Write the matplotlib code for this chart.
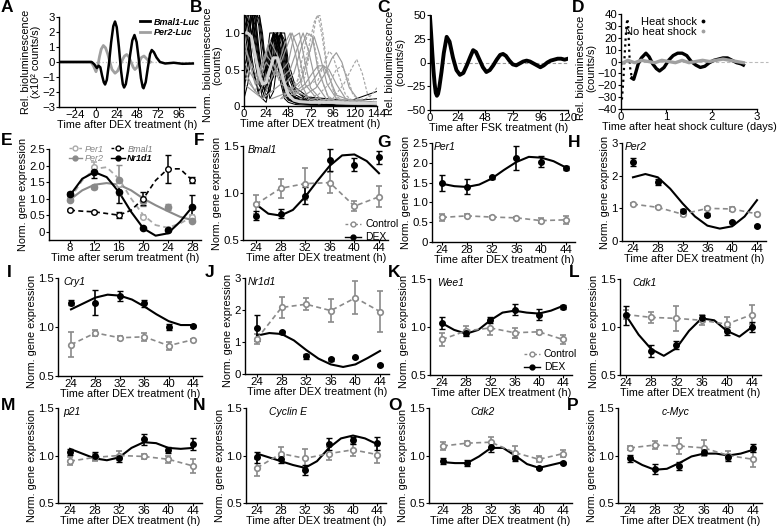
import matplotlib
matplotlib.use('Agg')
import matplotlib.pyplot as plt
from matplotlib.lines import Line2D

plt.rcParams['font.family'] = ['Liberation Sans', 'DejaVu Sans']
plt.rcParams['font.size'] = 8
plt.rcParams['axes.linewidth'] = 1.0
plt.rcParams['xtick.major.size'] = 2.0
plt.rcParams['ytick.major.size'] = 2.0
plt.rcParams['xtick.major.pad'] = 0.0
plt.rcParams['ytick.major.pad'] = 0.8
plt.rcParams['xtick.labelsize'] = 8.2
plt.rcParams['ytick.labelsize'] = 8.2
plt.rcParams['axes.labelsize'] = 7.8
plt.rcParams['axes.labelpad'] = 1

# ---------------- Panel A ----------------
a_bmal_t = [-43, -10, -5, -2, 1, 3, 5, 7, 9, 10.5, 12.5, 15, 17.5, 20, 22, 24, 26.5, 29, 31, 32.5, 34.5, 37, 39.5, 42, 44.5, 47, 49.5, 52, 54, 55, 57.5, 60, 62.5, 64.5, 67, 70, 74, 80, 90, 100, 112]
a_bmal_v = [0, 0, 0, -0.15, -0.4, -0.25, -0.35, -0.9, -1.35, -1.5, -1.19, -0.11, 1.31, 2.39, 2.7, 2.32, 0.99, -0.6, -1.48, -1.7, -1.47, -0.62, 0.5, 1.44, 1.8, 1.33, 0.16, -1.08, -1.67, -1.75, -1.34, -0.37, 0.53, 0.8, 0.65, 0.3, 0.0, -0.1, -0.05, -0.12, -0.1]
a_per2_t = [-43, -6, -3, 0, 2, 4, 6, 8.5, 11, 13.5, 16, 18.5, 22, 25, 28, 31, 33, 35.5, 38, 40.5, 43, 45, 47.5, 50, 52.5, 55.5, 58, 60.5, 63]
a_per2_v = [0, 0, -0.25, -0.65, -0.3, 0.35, 0.85, 1.1, 0.95, 0.55, 0.0, -0.5, -0.75, -0.6, -0.2, 0.2, 0.4, 0.5, 0.35, 0.0, -0.35, -0.5, -0.35, 0.0, 0.3, 0.4, 0.25, 0.1, 0.0]
a_xticks = [-24, 0, 24, 48, 72, 96]
a_yticks = [-3, -2, -1, 0, 1, 2, 3]

# ---------------- Panel B ----------------
b_black_t = [0, 4, 8, 12, 16, 20, 24, 28, 32, 36, 40, 44, 48, 56, 72, 108, 144]
b_black_traces = [
    [1.3, 1.3, 1.0, 0.6, 0.3, 0.2, 0.4, 0.8, 1.0, 0.9, 0.5, 0.2, 0.1, 0.05, 0.03, 0.02, 0.02],
    [0.2, 0.6, 1.3, 1.3, 0.8, 0.4, 0.3, 0.6, 0.9, 1.0, 0.7, 0.3, 0.1, 0.05, 0.02, 0.01, 0.03],
    [1.0, 1.3, 1.3, 0.9, 0.5, 0.2, 0.1, 0.3, 0.7, 1.0, 1.0, 0.6, 0.2, 0.08, 0.04, 0.02, 0.01],
    [0.6, 1.0, 1.3, 1.2, 0.7, 0.3, 0.2, 0.5, 1.0, 0.8, 0.4, 0.15, 0.08, 0.04, 0.02, 0.0, 0.0],
    [1.3, 1.1, 0.7, 0.4, 0.2, 0.3, 0.6, 1.0, 1.0, 0.6, 0.3, 0.1, 0.05, 0.02, 0.01, 0.01, 0.02],
    [0.4, 0.8, 1.2, 1.3, 1.1, 0.6, 0.3, 0.2, 0.5, 0.9, 1.0, 0.8, 0.4, 0.15, 0.05, 0.03, 0.02],
    [0.1, 0.3, 0.7, 1.1, 1.3, 1.0, 0.5, 0.3, 0.4, 0.8, 1.0, 0.9, 0.5, 0.2, 0.05, 0.03, 0.05],
    [1.2, 1.3, 1.3, 1.0, 0.6, 0.3, 0.15, 0.2, 0.5, 0.9, 1.0, 0.7, 0.3, 0.1, 0.05, 0.03, 0.02],
    [0.9, 1.2, 1.0, 0.7, 0.4, 0.25, 0.35, 0.7, 1.0, 0.95, 0.6, 0.3, 0.15, 0.08, 0.06, 0.05, 0.04],
    [0.3, 0.5, 0.9, 1.3, 1.3, 0.9, 0.4, 0.1, 0.2, 0.6, 1.0, 1.0, 0.6, 0.25, 0.1, 0.05, 0.02],
    [1.3, 1.3, 1.2, 0.8, 0.4, 0.1, 0.05, 0.3, 0.8, 1.0, 0.7, 0.3, 0.1, 0.04, 0.02, 0.02, 0.01],
    [0.5, 0.7, 1.0, 1.3, 1.2, 0.8, 0.5, 0.4, 0.6, 0.9, 1.0, 0.8, 0.45, 0.2, 0.08, 0.06, 0.1],
    [1.1, 0.9, 0.6, 0.35, 0.15, 0.1, 0.3, 0.65, 0.95, 1.0, 0.75, 0.4, 0.2, 0.1, 0.12, 0.08, 0.05],
    [0.8, 1.3, 1.3, 1.1, 0.7, 0.45, 0.5, 0.85, 1.0, 1.0, 0.85, 0.5, 0.25, 0.12, 0.06, 0.04, 0.2],
]
b_gray_solid = [
    ([0, 12, 24, 36, 44, 50, 56, 62, 70, 84, 100, 144], [0.9, 0.3, 0.7, 0.5, 0.85, 1.0, 0.7, 0.3, 0.1, 0.05, 0.03, 0.02]),
    ([0, 12, 24, 36, 48, 54, 60, 66, 72, 84, 100, 144], [0.5, 0.2, 0.6, 0.4, 0.6, 0.95, 1.0, 0.6, 0.25, 0.08, 0.04, 0.02]),
    ([0, 14, 26, 38, 50, 58, 64, 70, 78, 90, 110, 144], [0.6, 0.3, 0.8, 0.35, 0.5, 0.8, 1.0, 0.75, 0.3, 0.08, 0.03, 0.02]),
    ([0, 16, 30, 44, 54, 62, 68, 74, 80, 92, 110, 144], [0.4, 0.15, 0.6, 0.3, 0.45, 0.8, 1.0, 0.95, 0.5, 0.1, 0.04, 0.02]),
    ([0, 20, 34, 50, 62, 70, 76, 82, 90, 100, 120, 144], [0.3, 0.1, 0.5, 0.2, 0.35, 0.7, 0.95, 0.7, 0.3, 0.1, 0.04, 0.03]),
    ([20, 40, 56, 66, 74, 80, 86, 92, 100, 120, 144], [0.1, 0.3, 0.2, 0.3, 0.45, 0.55, 0.55, 0.4, 0.15, 0.05, 0.03]),
    ([30, 50, 66, 78, 88, 95, 100, 106, 114, 124, 144], [0.1, 0.2, 0.15, 0.25, 0.45, 0.65, 0.73, 0.6, 0.25, 0.08, 0.03]),
    ([0, 14, 28, 40, 46, 52, 58, 66, 80, 100, 144], [0.8, 0.4, 0.9, 0.6, 0.8, 1.0, 0.8, 0.3, 0.08, 0.03, 0.02]),
    ([40, 60, 72, 80, 86, 92, 100, 110, 144], [0.1, 0.2, 0.3, 0.45, 0.55, 0.5, 0.3, 0.1, 0.03]),
]
b_gray_dashed = [
    ([40, 56, 64, 70, 76, 80, 84, 90, 98, 110, 144], [0.1, 0.3, 0.5, 0.8, 1.15, 1.25, 1.0, 0.5, 0.15, 0.05, 0.03]),
    ([40, 58, 64, 68, 72, 76, 82, 90, 100, 144], [0.1, 0.35, 0.7, 0.95, 1.0, 0.85, 0.45, 0.15, 0.05, 0.03]),
    ([50, 70, 80, 86, 92, 96, 102, 110, 120, 144], [0.1, 0.3, 0.35, 0.55, 0.75, 0.7, 0.45, 0.15, 0.05, 0.03]),
    ([60, 80, 92, 100, 106, 112, 118, 130, 144], [0.1, 0.15, 0.3, 0.5, 0.55, 0.4, 0.15, 0.05, 0.03]),
    ([70, 96, 108, 116, 122, 128, 134, 144], [0.05, 0.1, 0.3, 0.5, 0.64, 0.45, 0.15, 0.05]),
    ([50, 66, 74, 78, 82, 86, 90, 100, 144], [0.1, 0.4, 0.9, 1.2, 1.25, 0.95, 0.5, 0.1, 0.03]),
    ([80, 100, 120, 132, 138, 144], [0.03, 0.05, 0.08, 0.1, 0.15, 0.25]),
]
b_mean_t = [0, 4, 8, 12, 16, 20, 24, 28, 32, 36, 40, 44, 48, 54, 60, 72, 96, 120, 144]
b_mean_v = [1.0, 1.0, 0.95, 0.7, 0.45, 0.3, 0.32, 0.5, 0.66, 0.66, 0.5, 0.3, 0.15, 0.08, 0.06, 0.05, 0.05, 0.04, 0.04]
b_xticks = [0, 24, 48, 72, 96, 120, 144]
b_yticks = [0, 0.5, 1.0]
b_ytick_labels = ['0', '0.5', '1.0']

# ---------------- Panel C ----------------
c_t = [0, 1, 2, 3, 4, 5, 6, 7, 8, 10, 12, 14.5, 17, 20, 23, 26, 29, 32, 35, 37.5, 40, 43, 46, 49, 52, 55, 58, 61, 63.5, 66, 69, 72, 75, 78, 81, 84, 87, 90, 93, 96, 99, 102, 105, 108, 111, 114, 117, 120]
c_v = [48, 30, 10, -8, -22, -32, -35, -33, -27, -10, 10, 27, 22, 5, -8, -13, -11, -3, 6, 13, 11, 3, -5, -10, -8, -3, 3, 8, 9, 7, 2, -2, -3, -1, 1, 2, 1, -1, -3, -5, -3, 0, 2, 3, 4, 4, 3, 4]
c_xticks = [0, 24, 48, 72, 96, 120]
c_yticks = [-50, -25, 0, 25, 50]

# ---------------- Panel D ----------------
d_hs_t = [0.02, 0.04, 0.06, 0.08, 0.1, 0.12, 0.14, 0.16, 0.18, 0.2, 0.24, 0.28, 0.32, 0.38, 0.45, 0.55, 0.62, 0.7, 0.78, 0.85, 0.95, 1.05, 1.15, 1.25, 1.35, 1.45, 1.55, 1.65, 1.75, 1.85, 1.95, 2.05, 2.15, 2.25, 2.35, 2.45, 2.55, 2.65, 2.7]
d_hs_v = [-32, -22, -10, 5, 18, 30, 36, 30, 10, -5, -14, -15, -10, -2, 3, 7, 4, -2, -6, -8, -5, 1, 5, 7, 7, 5, 0, -3, -5, -4, -1, 1, 2, 3, 3, 1, -1, -2, -3]
d_nohs_t = [0.0, 0.15, 0.3, 0.45, 0.6, 0.75, 0.9, 1.05, 1.2, 1.35, 1.5, 1.65, 1.8, 1.95, 2.1, 2.25, 2.4, 2.55, 2.7]
d_nohs_v = [-2, 1, -1, 1, 0, -1, 1, 0, -1, 1, -1, 0, 1, 0, 1, 2, 1, 0, -1]
d_xticks = [0, 1, 2, 3]
d_yticks = [-40, -30, -20, -10, 0, 10, 20, 30, 40]

# ---------------- Panel E ----------------
e_t = [8, 12, 16, 20, 24, 28]
e_per1 = [1.03, 1.95, 1.45, 0.45, 0.07, 0.45]
e_per1_err = [0.05, 0.15, 0.1, 0.05, 0.03, 0.05]
e_per2 = [0.96, 1.35, 1.56, 0.94, 0.75, 0.33]
e_per2_err = [0.04, 0.05, 0.45, 0.15, 0.1, 0.05]
e_bmal1 = [0.65, 0.6, 0.5, 1.0, 1.9, 1.56]
e_bmal1_err = [0.03, 0.03, 0.1, 0.2, 0.42, 0.08]
e_nr1d1 = [1.14, 1.79, 1.21, 0.1, 0.05, 0.75]
e_nr1d1_err = [0.05, 0.17, 0.35, 0.03, 0.03, 0.35]
e_fit_t = [8, 10, 12, 14, 16, 18, 20, 22, 24, 26, 28]
e_per1_fit = [1.0, 1.55, 1.9, 1.95, 1.6, 1.0, 0.5, 0.2, 0.12, 0.25, 0.45]
e_per2_fit = [0.97, 1.25, 1.42, 1.47, 1.42, 1.25, 1.0, 0.8, 0.62, 0.45, 0.35]
e_bmal1_fit = [0.65, 0.62, 0.6, 0.55, 0.5, 0.65, 1.0, 1.55, 1.9, 1.9, 1.55]
e_nr1d1_fit = [1.1, 1.6, 1.8, 1.65, 1.2, 0.6, 0.1, -0.12, -0.05, 0.3, 0.75]
e_xticks = [8, 12, 16, 20, 24, 28]
e_yticks = [0, 0.5, 1.0, 1.5, 2.0, 2.5]
e_ytick_labels = ['0', '0.5', '1.0', '1.5', '2.0', '2.5']

# ---------------- Panels F-P (DEX vs Control) ----------------
times = [24, 28, 32, 36, 40, 44]
fit_t = [24, 26, 28, 30, 32, 34, 36, 38, 40, 42, 44]
gene_xticks = [24, 28, 32, 36, 40, 44]

bmal1_dex = [0.76, 0.78, 0.97, 1.35, 1.30, 1.38]
bmal1_dex_err = [0.05, 0.05, 0.09, 0.12, 0.07, 0.07]
bmal1_ctrl = [0.88, 1.05, 1.10, 1.11, 0.86, 0.96]
bmal1_ctrl_err = [0.10, 0.10, 0.17, 0.11, 0.05, 0.11]
bmal1_fit = [0.88, 0.78, 0.76, 0.82, 0.96, 1.13, 1.29, 1.40, 1.41, 1.34, 1.21]

per1_dex = [1.48, 1.40, 1.63, 2.12, 2.03, 1.88]
per1_dex_err = [0.2, 0.18, 0.03, 0.3, 0.13, 0.05]
per1_ctrl = [0.62, 0.66, 0.63, 0.61, 0.54, 0.56]
per1_ctrl_err = [0.08, 0.04, 0.02, 0.03, 0.06, 0.1]
per1_fit = [1.47, 1.41, 1.39, 1.45, 1.6, 1.82, 2.02, 2.15, 2.13, 2.04, 1.88]

per2_dex = [2.42, 1.81, 0.92, 0.81, 0.59, 0.47]
per2_dex_err = [0.12, 0.1, 0.06, 0.04, 0.03, 0.03]
per2_ctrl = [1.13, 1.03, 0.82, 1.0, 0.98, 0.83]
per2_ctrl_err = [0.04, 0.03, 0.05, 0.04, 0.06, 0.03]
per2_fit = [1.95, 2.05, 1.95, 1.6, 1.15, 0.75, 0.47, 0.38, 0.45, 0.75, 1.25]

cry1_dex = [1.25, 1.25, 1.32, 1.24, 1.0, 1.01]
cry1_dex_err = [0.03, 0.13, 0.05, 0.04, 0.03, 0.01]
cry1_ctrl = [0.82, 0.94, 0.89, 0.9, 0.81, 0.87]
cry1_ctrl_err = [0.13, 0.03, 0.02, 0.04, 0.04, 0.01]
cry1_fit = [1.18, 1.24, 1.3, 1.33, 1.32, 1.28, 1.21, 1.13, 1.06, 1.02, 1.02]

nr1d1_dex = [1.44, 1.3, 0.55, 0.46, 0.52, 0.28]
nr1d1_dex_err = [0.4, 0.05, 0.08, 0.05, 0.02, 0.02]
nr1d1_ctrl = [1.1, 2.08, 2.18, 1.98, 2.38, 1.95]
nr1d1_ctrl_err = [0.15, 0.33, 0.18, 0.35, 0.52, 0.63]
nr1d1_fit = [1.2, 1.28, 1.25, 1.05, 0.75, 0.48, 0.3, 0.22, 0.3, 0.5, 0.72]

wee1_dex = [1.04, 0.94, 1.07, 1.18, 1.13, 1.21]
wee1_dex_err = [0.06, 0.03, 0.03, 0.06, 0.06, 0.02]
wee1_ctrl = [0.87, 0.96, 0.99, 0.94, 0.95, 0.87]
wee1_ctrl_err = [0.07, 0.05, 0.07, 0.05, 0.02, 0.05]
wee1_fit = [1.04, 0.97, 0.93, 0.97, 1.07, 1.15, 1.17, 1.15, 1.14, 1.17, 1.22]

cdk1_dex = [1.12, 0.75, 0.81, 1.09, 0.96, 1.0]
cdk1_dex_err = [0.1, 0.06, 0.04, 0.03, 0.04, 0.05]
cdk1_ctrl = [1.13, 1.1, 1.09, 1.07, 1.03, 1.13]
cdk1_ctrl_err = [0.05, 0.06, 0.13, 0.05, 0.07, 0.1]
cdk1_fit = [1.12, 0.92, 0.77, 0.7, 0.78, 0.96, 1.09, 1.07, 0.96, 0.9, 1.0]

p21_dex = [1.04, 1.0, 0.97, 1.17, 1.06, 1.12]
p21_dex_err = [0.03, 0.04, 0.04, 0.06, 0.03, 0.06]
p21_ctrl = [0.94, 0.98, 1.0, 0.99, 0.96, 0.89]
p21_ctrl_err = [0.04, 0.04, 0.05, 0.03, 0.04, 0.07]
p21_fit = [1.07, 1.02, 0.97, 0.95, 0.98, 1.08, 1.14, 1.13, 1.08, 1.07, 1.08]

ccne_dex = [0.98, 0.96, 0.85, 1.12, 1.16, 1.13]
ccne_dex_err = [0.06, 0.04, 0.05, 0.06, 0.04, 0.07]
ccne_ctrl = [0.87, 1.02, 0.97, 1.02, 1.06, 1.01]
ccne_ctrl_err = [0.09, 0.07, 0.1, 0.07, 0.06, 0.09]
ccne_fit = [1.02, 0.98, 0.94, 0.9, 0.87, 0.94, 1.08, 1.18, 1.21, 1.18, 1.12]

cdk2_dex = [0.94, 0.92, 1.09, 0.97, 0.87, 0.92]
cdk2_dex_err = [0.03, 0.03, 0.05, 0.03, 0.01, 0.01]
cdk2_ctrl = [1.1, 1.13, 1.14, 1.03, 0.96, 1.02]
cdk2_ctrl_err = [0.04, 0.02, 0.06, 0.07, 0.03, 0.04]
cdk2_fit = [0.93, 0.92, 0.92, 0.99, 1.08, 1.08, 1.0, 0.91, 0.87, 0.9, 0.93]

myc_dex = [0.97, 0.86, 0.89, 1.04, 0.98, 1.08]
myc_dex_err = [0.04, 0.05, 0.04, 0.03, 0.04, 0.04]
myc_ctrl = [1.08, 1.11, 1.1, 1.08, 1.0, 0.96]
myc_ctrl_err = [0.02, 0.04, 0.08, 0.08, 0.05, 0.08]
myc_fit = [0.97, 0.9, 0.85, 0.86, 0.92, 0.99, 1.02, 1.02, 1.0, 1.02, 1.06]

ticks_05 = [0.5, 1.0, 1.5]
ticks_05_labels = ['0.5', '1.0', '1.5']
ticks_g = [0, 0.5, 1.0, 1.5, 2.0, 2.5]
ticks_g_labels = ['0', '0.5', '1.0', '1.5', '2.0', '2.5']
ticks_3 = [0, 1, 2, 3]

# ---------------- figure ----------------
W, H = 778, 532
fig = plt.figure(figsize=(W / 100, H / 100), dpi=100)
GRAY = '#8a8a8a'
LGRAY = '#a8a8a8'
XLPAD = 0.0


def add_ax(xmap, xlim, ymap, ylim):
    xv1, xp1, xv2, xp2 = xmap
    sx = (xp2 - xp1) / (xv2 - xv1)
    left = xp1 + (xlim[0] - xv1) * sx
    right = xp1 + (xlim[1] - xv1) * sx
    yv1, yp1, yv2, yp2 = ymap
    sy = (yp2 - yp1) / (yv2 - yv1)
    top = yp1 + (ylim[1] - yv1) * sy
    bottom = yp1 + (ylim[0] - yv1) * sy
    ax = fig.add_axes([left / W, 1 - bottom / H, (right - left) / W, (bottom - top) / H])
    ax.set_xlim(xlim)
    ax.set_ylim(ylim)
    ax.spines[['top', 'right']].set_visible(False)
    ax.patch.set_alpha(0)
    return ax


def letter(x, y, s):
    fig.text(x / W, 1 - y / H, s, fontsize=12.5, fontweight='bold', va='top', ha='left')


# A
ax = add_ax((0, 96, 96, 179), (-43, 115), (3, 17, -3, 107), (-3, 3))
ax.axhline(0, color='#bbbbbb', ls=':', lw=0.9)
ax.plot(a_per2_t, a_per2_v, color='#a0a0a0', lw=2)
ax.plot(a_bmal_t, a_bmal_v, color='black', lw=1.8)
ax.set_xticks(a_xticks)
ax.set_yticks(a_yticks)
ax.set_xlabel('Time after DEX treatment (h)', labelpad=XLPAD)
ax.set_ylabel('Rel. bioluminescence\n(x10² counts/s)', linespacing=1.0)
h1 = Line2D([], [], color='black', lw=2)
h2 = Line2D([], [], color='#a0a0a0', lw=2)
leg = ax.legend([h1, h2], ['Bmal1-Luc', 'Per2-Luc'], loc='upper left',
                bbox_to_anchor=(135 / W, 1 - 13 / H), bbox_transform=fig.transFigure,
                frameon=False, handlelength=1.2, handletextpad=0.35, borderpad=0,
                labelspacing=0.2, prop={'style': 'italic', 'weight': 'bold', 'size': 6.5})

# B
ax = add_ax((0, 244, 144, 377), (0, 144), (0, 106, 1.0, 33), (0, 1.25))
for tr in b_black_traces:
    ax.plot(b_black_t, tr, color='black', lw=0.75)
for tt, vv in b_gray_solid:
    ax.plot(tt, vv, color='#9a9a9a', lw=0.85)
for tt, vv in b_gray_dashed:
    ax.plot(tt, vv, color='#a5a5a5', lw=0.85, ls=(0, (2.5, 1.5)))
ax.plot(b_mean_t, b_mean_v, color='#d4d4d4', lw=2.2)
ax.set_xticks(b_xticks)
ax.set_yticks(b_yticks, b_ytick_labels)
ax.set_xlabel('Time after DEX treatment (h)', labelpad=XLPAD)
ax.set_ylabel('Norm. bioluminescence\n(counts)', linespacing=1.0)
ax.yaxis.label.set_y(0.45)

# C
ax = add_ax((0, 430, 120, 568), (0, 120), (50, 15, -50, 110), (-50, 50))
ax.axhline(0, color='#999999', ls='--', lw=0.8, dashes=(3, 2))
ax.plot(c_t, c_v, color='black', lw=2.8)
ax.set_xticks(c_xticks)
ax.set_yticks(c_yticks)
ax.set_xlabel('Time after FSK treatment (h)', labelpad=XLPAD)
ax.set_ylabel('Rel. bioluminescence\n(counts/s)', linespacing=1.0)

# D
ax = add_ax((0, 621, 3, 757), (0, 3), (40, 14, -40, 109), (-40, 40))
ax.plot([0, 3.25], [0, 0], color='#bbbbbb', ls='--', lw=0.8, dashes=(3, 2), clip_on=False)
ax.plot(d_hs_t[:11], d_hs_v[:11], color='black', lw=1.6, ls=':')
ax.plot(d_hs_t[10:], d_hs_v[10:], color='black', lw=2.4)
ax.plot(d_nohs_t, d_nohs_v, color='#a0a0a0', lw=2.4)
ax.set_xticks(d_xticks)
ax.set_yticks(d_yticks)
ax.set_xlabel('Time after heat shock culture (days)', labelpad=XLPAD)
ax.set_ylabel('Rel. bioluminescence\n(counts/s)', linespacing=1.0)
ax.yaxis.label.set_y(0.43)
hh1 = Line2D([], [], color='black', ls='none', marker='.', ms=3.5)
hh2 = Line2D([], [], color='#a0a0a0', ls='none', marker='.', ms=3.5)
ax.legend([hh1, hh2], ['Heat shock', 'No heat shock'], loc='upper right',
          bbox_to_anchor=(711 / W, 1 - 11 / H), bbox_transform=fig.transFigure,
          frameon=False, markerfirst=False, handlelength=0.5, handletextpad=0.3,
          borderpad=0, labelspacing=0.0, fontsize=8)

# E
ax = add_ax((8, 70, 28, 192.3), (4.6, 29.5), (2.5, 149, 0, 231.7), (-0.25, 2.5))
ax.plot(e_fit_t, e_per1_fit, color=LGRAY, lw=1.3, ls='--', dashes=(3, 2))
ax.plot(e_fit_t, e_per2_fit, color=GRAY, lw=1.5)
ax.plot(e_fit_t, e_bmal1_fit, color='black', lw=1.2, ls='--', dashes=(3, 2))
ax.plot(e_fit_t, e_nr1d1_fit, color='black', lw=1.5)
ax.errorbar(e_t, e_per1, yerr=e_per1_err, color=LGRAY, ls='none', marker='o', ms=4,
            mfc='white', mew=1.1, capsize=2, elinewidth=1.1)
ax.errorbar(e_t, e_per2, yerr=e_per2_err, color=GRAY, ls='none', marker='o', ms=4.5,
            capsize=2, elinewidth=1.1)
ax.errorbar(e_t, e_bmal1, yerr=e_bmal1_err, color='black', ls='none', marker='o', ms=4,
            mfc='white', mew=1.0, capsize=2, elinewidth=1.1)
ax.errorbar(e_t, e_nr1d1, yerr=e_nr1d1_err, color='black', ls='none', marker='o', ms=4.5,
            capsize=2, elinewidth=1.1)
ax.set_xticks(e_xticks)
ax.set_yticks(e_yticks, e_ytick_labels)
ax.set_xlabel('Time after serum treatment (h)', labelpad=XLPAD)
ax.set_ylabel('Norm. gene expression')
eh = [Line2D([], [], color=LGRAY, ls='--', dashes=(2, 1.5), marker='o', mfc='white', ms=3.5, lw=1),
      Line2D([], [], color=GRAY, ls='-', marker='o', ms=3.5, lw=1),
      Line2D([], [], color='black', ls='--', dashes=(2, 1.5), marker='o', mfc='white', ms=3.5, lw=1),
      Line2D([], [], color='black', ls='-', marker='o', ms=3.5, lw=1)]
leg = ax.legend(eh, ['Per1', 'Per2', 'Bmal1', 'Nr1d1'], ncol=2, loc='upper left',
                bbox_to_anchor=(64 / W, 1 - 140 / H), bbox_transform=fig.transFigure,
                frameon=False, handlelength=1.5, handletextpad=0.3, borderpad=0,
                columnspacing=0.8, labelspacing=0.05, prop={'style': 'italic', 'size': 6.5})
for txt, col, wt in zip(leg.get_texts(), ['#888888', '#888888', '#777777', 'black'],
                        ['normal', 'normal', 'normal', 'bold']):
    txt.set_color(col)
    txt.set_fontweight(wt)


def gene_panel(xmap, xlim, ymap, ylim, name, name_x, dex, dex_err, ctrl, ctrl_err, fit,
               yticks, ylabels, legend_anchor=None, ylabel_y=0.5):
    ax = add_ax(xmap, xlim, ymap, ylim)
    ax.errorbar(times, ctrl, yerr=ctrl_err, color=GRAY, ls='--', dashes=(3, 2), lw=1.2,
                marker='o', ms=4, mfc='white', mec=GRAY, mew=1.2, capsize=2, elinewidth=1.2)
    ax.plot(fit_t, fit, color='black', lw=1.5)
    ax.errorbar(times, dex, yerr=dex_err, color='black', ls='none', marker='o', ms=4,
                capsize=2, elinewidth=1.2)
    ax.set_xticks(gene_xticks)
    ax.set_yticks(yticks, ylabels)
    ax.set_xlabel('Time after DEX treatment (h)', labelpad=XLPAD)
    ax.set_ylabel('Norm. gene expression')
    ax.yaxis.label.set_y(ylabel_y)
    ax.text(name_x, 0.955, name, transform=ax.get_xaxis_transform(), style='italic',
            fontsize=7.5, va='center', ha='left')
    if legend_anchor is not None:
        hc = Line2D([], [], color=GRAY, ls='--', dashes=(2, 1.5), marker='o', mfc='white', ms=3.5, lw=1)
        hd = Line2D([], [], color='black', ls='-', marker='o', ms=3.5, lw=1)
        ax.legend([hc, hd], ['Control', 'DEX'], loc='upper left',
                  bbox_to_anchor=(legend_anchor[0] / W, 1 - legend_anchor[1] / H),
                  bbox_transform=fig.transFigure, frameon=False, handlelength=1.5,
                  handletextpad=0.4, borderpad=0, labelspacing=0.3, fontsize=7.5)
    return ax


# F - H
gene_panel((24, 256, 44, 379), (21.9, 45.5), (1.5, 146, 0.5, 240), (0.5, 1.5), 'Bmal1', 22.7,
           bmal1_dex, bmal1_dex_err, bmal1_ctrl, bmal1_ctrl_err, bmal1_fit, ticks_05, ticks_05_labels,
           legend_anchor=(340, 214))
gene_panel((24, 442, 44, 566), (22.4, 45.5), (2.5, 143, 0, 242), (0, 2.5), 'Per1', 22.6,
           per1_dex, per1_dex_err, per1_ctrl, per1_ctrl_err, per1_fit, ticks_g, ticks_g_labels)
gene_panel((24, 633, 44, 757), (22.2, 45.5), (3, 143, 0, 241), (0, 3), 'Per2', 22.6,
           per2_dex, per2_dex_err, per2_ctrl, per2_ctrl_err, per2_fit, ticks_3, [str(v) for v in ticks_3])
# I - L
gene_panel((24, 71, 44, 193), (21.9, 45.5), (1.5, 278, 0.5, 376), (0.5, 1.5), 'Cry1', 22.7,
           cry1_dex, cry1_dex_err, cry1_ctrl, cry1_ctrl_err, cry1_fit, ticks_05, ticks_05_labels,
           ylabel_y=0.45)
gene_panel((24, 257, 44, 380), (22.0, 45.5), (3, 278, 0, 374), (0, 3), 'Nr1d1', 22.5,
           nr1d1_dex, nr1d1_dex_err, nr1d1_ctrl, nr1d1_ctrl_err, nr1d1_fit, ticks_3, [str(v) for v in ticks_3],
           ylabel_y=0.45)
gene_panel((24, 442, 44, 563), (22.0, 45.5), (1.5, 279, 0.5, 375), (0.5, 1.5), 'Wee1', 23.2,
           wee1_dex, wee1_dex_err, wee1_ctrl, wee1_ctrl_err, wee1_fit, ticks_05, ticks_05_labels,
           legend_anchor=(519, 344), ylabel_y=0.45)
gene_panel((24, 626, 44, 752), (23.0, 45.5), (1.5, 279, 0.5, 375), (0.5, 1.5), 'Cdk1', 25.0,
           cdk1_dex, cdk1_dex_err, cdk1_ctrl, cdk1_ctrl_err, cdk1_fit, ticks_05, ticks_05_labels,
           ylabel_y=0.45)
# M - P
gene_panel((24, 70, 44, 193), (22.0, 45.5), (1.5, 408, 0.5, 503), (0.5, 1.5), 'p21', 22.9,
           p21_dex, p21_dex_err, p21_ctrl, p21_ctrl_err, p21_fit, ticks_05, ticks_05_labels,
           ylabel_y=0.4)
gene_panel((24, 257, 44, 377), (22.2, 45.5), (1.5, 408, 0.5, 503), (0.5, 1.5), 'Cyclin E', 26.0,
           ccne_dex, ccne_dex_err, ccne_ctrl, ccne_ctrl_err, ccne_fit, ticks_05, ticks_05_labels,
           ylabel_y=0.4)
gene_panel((24, 443, 44, 563), (21.7, 45.5), (1.5, 408, 0.5, 503), (0.5, 1.5), 'Cdk2', 28.5,
           cdk2_dex, cdk2_dex_err, cdk2_ctrl, cdk2_ctrl_err, cdk2_fit, ticks_05, ticks_05_labels,
           ylabel_y=0.4)
gene_panel((24, 630, 44, 753), (22.0, 45.5), (1.5, 408, 0.5, 503), (0.5, 1.5), 'c-Myc', 29.2,
           myc_dex, myc_dex_err, myc_ctrl, myc_ctrl_err, myc_fit, ticks_05, ticks_05_labels,
           ylabel_y=0.4)

# panel letters
for x, y, s in [(1, 0, 'A'), (190, 0, 'B'), (377, 0, 'C'), (572, 0, 'D'),
                (1, 133, 'E'), (194, 133, 'F'), (377, 135, 'G'), (568, 135, 'H'),
                (7, 265, 'I'), (205, 265, 'J'), (388, 265, 'K'), (569, 265, 'L'),
                (1, 398, 'M'), (193, 398, 'N'), (388, 398, 'O'), (567, 398, 'P')]:
    letter(x, y, s)

fig.savefig('out.png', dpi=100)
